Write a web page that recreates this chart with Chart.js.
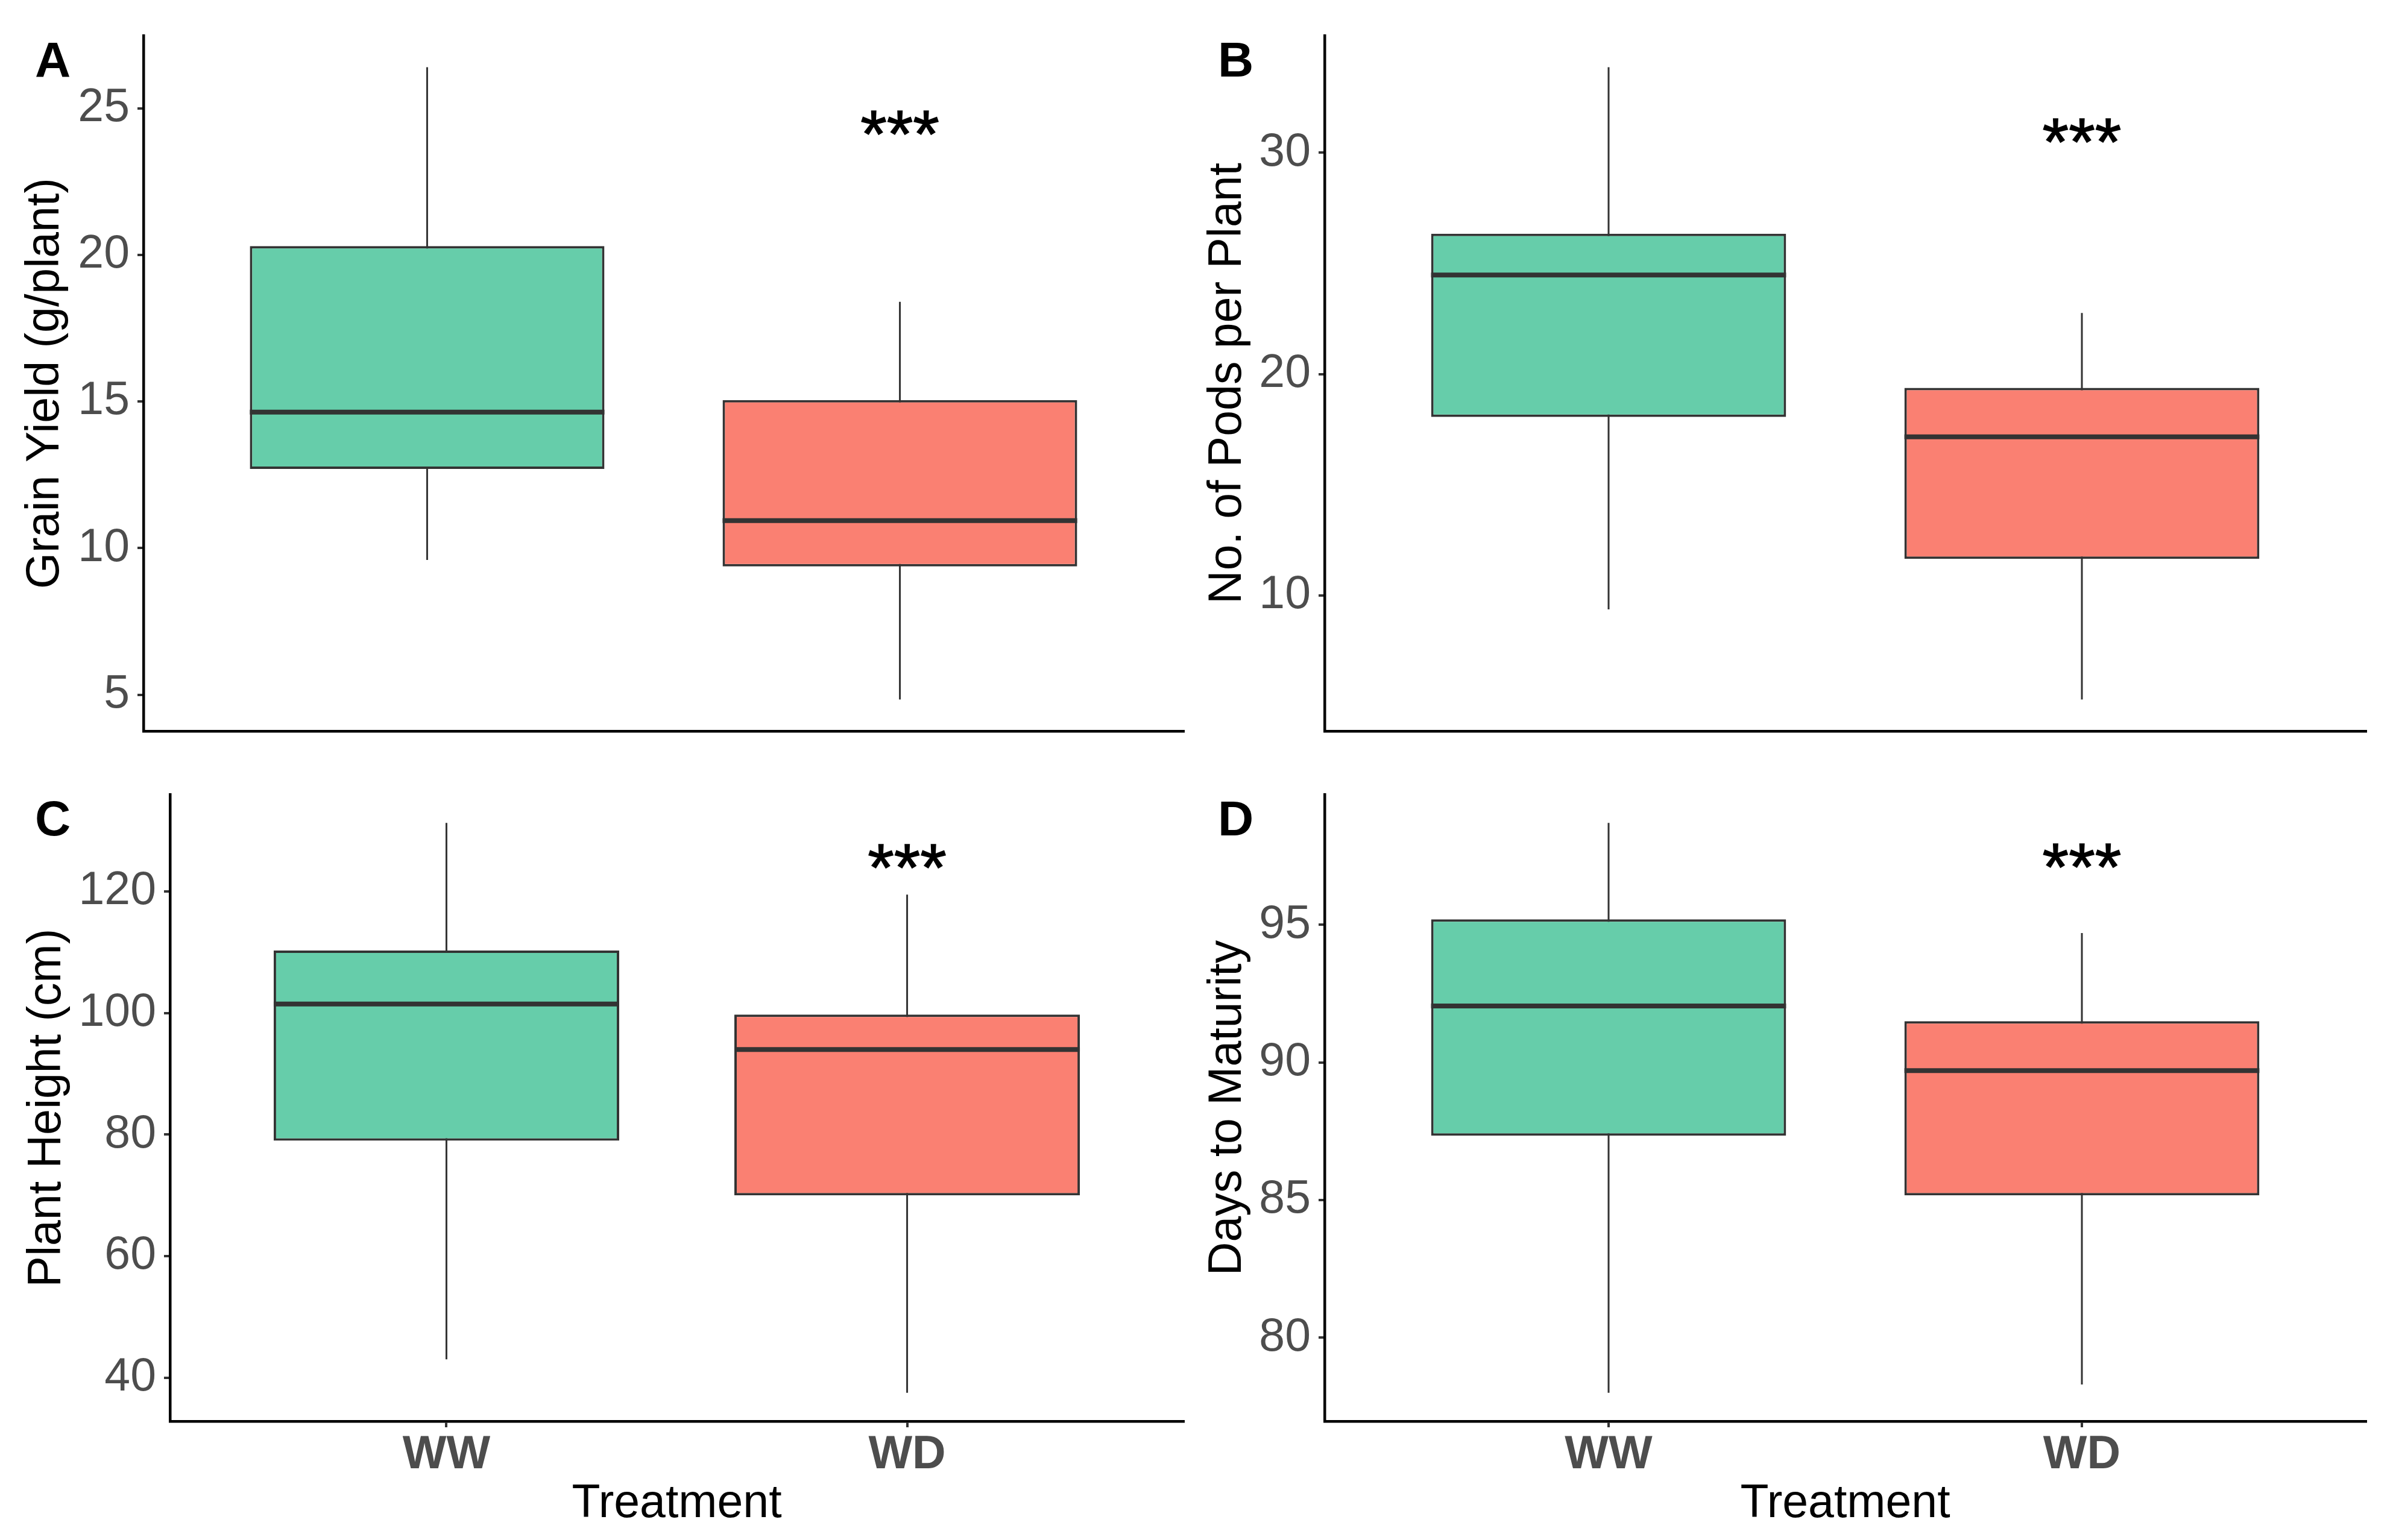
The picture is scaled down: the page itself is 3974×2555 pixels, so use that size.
<!DOCTYPE html>
<html>
<head>
<meta charset="utf-8">
<script src="https://cdn.jsdelivr.net/npm/chart.js@4.4.1/dist/chart.umd.min.js"></script>
<style>
  html, body { margin: 0; padding: 0; background: #fff; width: 3974px; height: 2555px; overflow: hidden; position: relative; }
  canvas { position: absolute; }
</style>
</head>
<body>
<canvas id="panelA" width="1987" height="1300" style="left:0px;top:-40px"></canvas>
<canvas id="panelB" width="1987" height="1300" style="left:1987px;top:-40px"></canvas>
<canvas id="panelC" width="1987" height="1325" style="left:0px;top:1230px"></canvas>
<canvas id="panelD" width="1987" height="1325" style="left:1987px;top:1230px"></canvas>
<script>
// treatments on the x axis
const categories = ['WW', 'WD'];

// five-number summaries: min, Q1, median, Q3, max
const grainYieldWW = [9.6, 12.7, 14.64, 20.3, 26.4];
const grainYieldWD = [4.84, 9.38, 10.94, 15.05, 18.4];
const podsWW = [9.38, 18.07, 24.48, 26.34, 33.86];
const podsWD = [5.31, 11.66, 17.17, 19.38, 22.76];
const heightWW = [43, 79, 101.5, 110.3, 131.3];
const heightWD = [37.5, 70, 94, 99.75, 119.5];
const maturityWW = [78.0, 87.34, 92.05, 95.2, 98.7];
const maturityWD = [78.3, 85.17, 89.7, 91.5, 94.7];

// y tick labels per panel
const ticksA = [5, 10, 15, 20, 25];
const ticksB = [10, 20, 30];
const ticksC = [40, 60, 80, 100, 120];
const ticksD = [80, 85, 90, 95];

// significance marks above WD
const sigText = '***';
const sigY = [24.5, 31, 125.8, 97.5];

const yTitles = ['Grain Yield (g/plant)', 'No. of Pods per Plant', 'Plant Height (cm)', 'Days to Maturity'];
const panelLetters = ['A', 'B', 'C', 'D'];
const fillColors = ['#66CDAA', '#FA8072'];

const FONT = "'Liberation Sans', Arial, Helvetica, sans-serif";
Chart.defaults.font.family = FONT;

function makePanel(id, idx, stats, ticks, lay) {
  // ggplot style 5% expansion around the data
  const lo = Math.min(...stats.map(s => s[0]));
  const hi = Math.max(...stats.map(s => s[4]));
  const pad = (hi - lo) * 0.05;

  const boxExtras = {
    id: 'boxExtras',
    beforeDatasetsDraw(chart) {
      const { ctx, scales: { x, y } } = chart;
      ctx.save();
      ctx.strokeStyle = '#333333';
      ctx.lineWidth = 3;
      stats.forEach((s, i) => {
        const px = x.getPixelForValue(i + 1);
        ctx.beginPath();
        ctx.moveTo(px, y.getPixelForValue(s[0]));
        ctx.lineTo(px, y.getPixelForValue(s[4]));
        ctx.stroke();
      });
      ctx.restore();
    },
    afterDatasetsDraw(chart) {
      const { ctx, scales: { y } } = chart;
      const meta = chart.getDatasetMeta(0);
      ctx.save();
      ctx.strokeStyle = '#333333';
      ctx.lineWidth = 8;
      ctx.lineCap = 'butt';
      meta.data.forEach((bar, i) => {
        const py = y.getPixelForValue(stats[i][2]);
        ctx.beginPath();
        ctx.moveTo(bar.x - bar.width / 2, py);
        ctx.lineTo(bar.x + bar.width / 2, py);
        ctx.stroke();
      });
      ctx.restore();
    },
    afterDraw(chart) {
      const { ctx, scales: { x, y } } = chart;
      ctx.save();
      ctx.fillStyle = '#000';
      // panel letter
      ctx.font = 'bold 82px ' + FONT;
      ctx.textAlign = 'left';
      ctx.textBaseline = 'alphabetic';
      ctx.fillText(panelLetters[idx], lay.letterX, lay.letterY);
      // significance stars over WD
      const fs = 112;
      ctx.font = fs + 'px ' + FONT;
      ctx.textAlign = 'center';
      ctx.strokeStyle = '#000';
      ctx.lineWidth = 1.5;
      const sx = x.getPixelForValue(2);
      const sy = y.getPixelForValue(sigY[idx]) + 0.51 * fs;
      ctx.fillText(sigText, sx, sy);
      ctx.strokeText(sigText, sx, sy);
      ctx.restore();
    }
  };

  return new Chart(document.getElementById(id), {
    type: 'bar',
    data: {
      datasets: [{
        data: stats.map((s, i) => ({ x: i + 1, y: [s[1], s[3]] })),
        backgroundColor: fillColors,
        borderColor: '#333333',
        borderWidth: 4,
        borderSkipped: false,
        barPercentage: 0.75,
        categoryPercentage: 1
      }]
    },
    options: {
      responsive: false,
      animation: false,
      devicePixelRatio: 1,
      layout: { padding: { top: lay.padTop, right: lay.padRight, bottom: 0, left: 0 } },
      plugins: { legend: { display: false }, tooltip: { enabled: false } },
      scales: {
        x: {
          type: 'linear',
          min: 0.4,
          max: 2.6,
          offset: false,
          afterBuildTicks: s => { s.ticks = categories.map((c, i) => ({ value: i + 1 })); },
          afterFit: s => { s.height = lay.xHeight; s.paddingLeft = 0; s.paddingRight = 0; },
          ticks: {
            display: lay.showX,
            autoSkip: false,
            maxRotation: 0,
            padding: 8,
            color: '#4D4D4D',
            font: { size: 77, weight: 'bold', lineHeight: 1 },
            callback: v => categories[v - 1]
          },
          grid: { offset: false, drawOnChartArea: false, drawTicks: lay.showX, tickLength: 10, color: '#333333', lineWidth: 4 },
          border: { display: true, color: '#000', width: 4.5 },
          title: { display: lay.showX, text: 'Treatment', color: '#000', font: { size: 77 }, padding: { top: 0, bottom: 12.8 } }
        },
        y: {
          type: 'linear',
          beginAtZero: false,
          min: lo - pad,
          max: hi + pad,
          afterBuildTicks: s => { s.ticks = ticks.map(v => ({ value: v })); },
          afterFit: s => { s.width = lay.yWidth; s.paddingTop = 0; s.paddingBottom = 0; },
          ticks: { padding: 13, color: '#4D4D4D', font: { size: 77 } },
          grid: { drawOnChartArea: false, tickLength: 10, color: '#333333', lineWidth: 4 },
          border: { display: true, color: '#000', width: 4.5 },
          title: { display: true, text: yTitles[idx], color: '#000', font: { size: 77 }, padding: { top: lay.titlePad, bottom: 0 } }
        }
      }
    },
    plugins: [boxExtras]
  });
}

makePanel('panelA', 0, [grainYieldWW, grainYieldWD], ticksA,
  { padTop: 99, padRight: 24, xHeight: 47, yWidth: 238, titlePad: 29.8, showX: false, letterX: 58, letterY: 167 });
makePanel('panelB', 1, [podsWW, podsWD], ticksB,
  { padTop: 99, padRight: 50, xHeight: 47, yWidth: 210, titlePad: 3.8, showX: false, letterX: 33, letterY: 167 });
makePanel('panelC', 2, [heightWW, heightWD], ticksC,
  { padTop: 88, padRight: 24, xHeight: 197, yWidth: 282, titlePad: 33, showX: true, letterX: 58, letterY: 156 });
makePanel('panelD', 3, [maturityWW, maturityWD], ticksD,
  { padTop: 88, padRight: 50, xHeight: 197, yWidth: 210, titlePad: 3.8, showX: true, letterX: 33, letterY: 156 });
</script>
</body>
</html>
